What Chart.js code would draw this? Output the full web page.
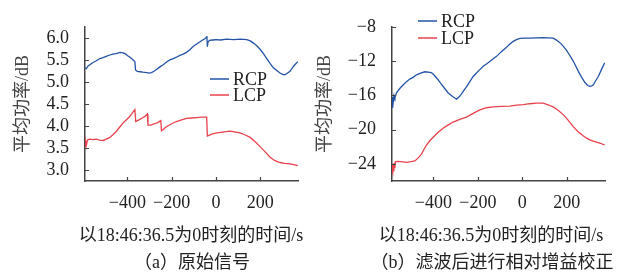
<!DOCTYPE html>
<html lang="zh">
<head>
<meta charset="utf-8">
<title>RCP / LCP 平均功率</title>
<script src="https://cdn.jsdelivr.net/npm/chart.js@4.4.1/dist/chart.umd.min.js"></script>
<style>
  html, body { margin: 0; padding: 0; background: #fff; }
  #wrap { position: relative; width: 630px; height: 280px; overflow: hidden; }
  canvas { position: absolute; top: 0; }
  #chartA { left: 0; }
  #chartB { left: 310px; }
  .lbl {
    position: absolute;
    font-family: "Liberation Serif", "Times New Roman", "DejaVu Serif", "Noto Sans CJK SC", serif;
    font-size: 18px;
    color: #222;
    text-align: center;
    white-space: nowrap;
    line-height: 20px;
    width: 300px;
  }
</style>
</head>
<body>
<div id="wrap">
  <canvas id="chartA" width="310" height="280"></canvas>
  <canvas id="chartB" width="320" height="280"></canvas>
  <div class="lbl" style="left:41px; top:225px;">以18:46:36.5为0时刻的时间/s</div>
  <div class="lbl" style="left:42px; top:252px;">（a）原始信号</div>
  <div class="lbl" style="left:341px; top:225px;">以18:46:36.5为0时刻的时间/s</div>
  <div class="lbl" style="left:342px; top:252px;">（b）滤波后进行相对增益校正</div>
</div>
<script>
// ---- Datos ----
var xTicks = [-400, -200, 0, 200];

// (a) señal original
var timeA_rcp = [-591, -585, -577, -569, -555, -540, -524, -510, -495, -479,
  -465, -450, -433, -420, -410, -400, -388, -375, -366, -363,
  -355, -343, -330, -313, -300, -291, -280, -268, -253, -238,
  -223, -208, -193, -178, -163, -148, -133, -118, -102, -87,
  -72, -60, -50, -44, -41, -39, -36, -30, -15, 0,
  20, 48, 80, 110, 139, 155, 169, 184, 199, 214,
  229, 244, 259, 274, 289, 300, 310, 320, 334, 349,
  360, 369];
var rcpA = [5.32, 5.30, 5.36, 5.39, 5.44, 5.48, 5.53, 5.55, 5.58, 5.61,
  5.63, 5.64, 5.67, 5.66, 5.64, 5.60, 5.56, 5.50, 5.46, 5.27,
  5.24, 5.23, 5.22, 5.21, 5.20, 5.21, 5.24, 5.28, 5.34, 5.39,
  5.45, 5.50, 5.53, 5.56, 5.60, 5.63, 5.67, 5.73, 5.81, 5.86,
  5.91, 5.95, 5.98, 6.01, 6.04, 5.80, 5.90, 5.94, 5.95, 5.96,
  5.95, 5.97, 5.96, 5.97, 5.96, 5.93, 5.88, 5.82, 5.74, 5.64,
  5.53, 5.42, 5.32, 5.26, 5.20, 5.17, 5.16, 5.19, 5.24, 5.35,
  5.41, 5.46];

var timeA_lcp = [-591, -589, -587, -584, -580, -570, -555, -539, -525, -509,
  -495, -479, -465, -449, -435, -419, -404, -388, -376, -366,
  -362, -350, -336, -320, -310, -307, -295, -276, -262, -249,
  -246, -236, -224, -200, -179, -155, -133, -110, -88, -65,
  -42, -39, -30, -15, 3, 30, 63, 90, 108, 130,
  154, 177, 199, 222, 244, 266, 289, 310, 334, 352,
  369];
var lcpA = [3.60, 3.55, 3.66, 3.58, 3.68, 3.70, 3.69, 3.70, 3.68, 3.67,
  3.70, 3.74, 3.80, 3.88, 3.97, 4.07, 4.14, 4.22, 4.30, 4.37,
  4.10, 4.13, 4.17, 4.22, 4.27, 4.02, 4.02, 4.05, 4.08, 4.12,
  3.89, 3.93, 3.98, 4.05, 4.10, 4.14, 4.17, 4.18, 4.19, 4.20,
  4.20, 3.77, 3.79, 3.82, 3.84, 3.86, 3.88, 3.86, 3.84, 3.80,
  3.74, 3.64, 3.53, 3.41, 3.29, 3.21, 3.17, 3.15, 3.14, 3.12,
  3.10];
var yTicksA = [3.0, 3.5, 4.0, 4.5, 5.0, 5.5, 6.0];

// (b) tras el filtrado y la corrección de ganancia relativa
var timeB_rcp = [-585, -583, -580, -577, -573, -566, -551, -536, -521, -506,
  -491, -476, -457, -438, -424, -409, -398, -386, -375, -364,
  -349, -334, -315, -296, -285, -274, -262, -251, -236, -221,
  -206, -191, -176, -161, -139, -116, -94, -71, -56, -41,
  -26, -11, 10, 34, 64, 94, 120, 139, 154, 169,
  184, 199, 214, 229, 241, 252, 267, 282, 294, 304,
  312, 319, 330, 342, 356, 371];
var rcpB = [-17.4, -16.2, -16.7, -16.0, -16.3, -15.7, -15.2, -14.8, -14.4, -14.1,
  -13.9, -13.6, -13.4, -13.25, -13.3, -13.35, -13.6, -13.95, -14.3, -14.7,
  -15.2, -15.7, -16.1, -16.45, -16.2, -15.85, -15.4, -15.0, -14.4, -13.8,
  -13.4, -13.0, -12.6, -12.35, -11.9, -11.45, -10.9, -10.4, -10.0, -9.7,
  -9.5, -9.35, -9.33, -9.32, -9.30, -9.28, -9.30, -9.33, -9.55, -9.85,
  -10.25, -10.75, -11.35, -12.0, -12.6, -13.2, -13.9, -14.5, -14.85, -14.95,
  -14.9, -14.8, -14.3, -13.8, -13.0, -12.2];

var timeB_lcp = [-585, -584, -582, -580, -578, -576, -573, -571, -563, -545,
  -521, -500, -483, -468, -453, -442, -431, -416, -401, -378,
  -356, -333, -311, -281, -251, -221, -191, -161, -131, -94,
  -56, -26, 4, 34, 64, 94, 116, 139, 161, 184,
  206, 229, 251, 274, 289, 304, 319, 334, 352, 371];
var lcpB = [-24.8, -24.0, -25.0, -24.1, -24.9, -23.9, -24.5, -23.75, -23.7, -23.75,
  -23.82, -23.75, -23.65, -23.3, -22.86, -22.3, -21.8, -21.3, -20.9, -20.3,
  -19.85, -19.45, -19.12, -18.8, -18.55, -18.1, -17.7, -17.45, -17.35, -17.3,
  -17.25, -17.15, -17.08, -16.98, -16.92, -16.92, -17.1, -17.35, -17.75, -18.25,
  -18.9, -19.65, -20.25, -20.72, -21.0, -21.2, -21.35, -21.45, -21.6, -21.8];
var yTicksB = [-24, -20, -16, -12, -8];

var seriesNames = ['RCP', 'LCP'];

// ---- Estilos ----
var SERIF = '"Liberation Serif", "Times New Roman", "DejaVu Serif", "Noto Sans CJK SC", serif';
var TEXT = '#222';
var AXIS = '#444';
var BLUE = '#2453a6';
var RED = '#e8424c';

function toPoints(xs, ys) {
  return xs.map(function(x, i) { return { x: x, y: ys[i] }; });
}

// Signo menos tipográfico
function fmt(v, digits) {
  var s = digits ? Math.abs(v).toFixed(digits) : String(Math.abs(v));
  return (v < 0 ? '\u2212' : '') + s;
}

// Marcas de escala hacia dentro del área
var innerTicks = {
  id: 'innerTicks',
  afterDraw: function(chart, args, opts) {
    var ctx = chart.ctx, area = chart.chartArea;
    var sx = chart.scales.x, sy = chart.scales.y;
    ctx.save();
    ctx.strokeStyle = AXIS;
    ctx.lineWidth = 1.2;
    ctx.beginPath();
    sx.ticks.forEach(function(t) {
      var px = Math.round(sx.getPixelForValue(t.value)) + 0.5;
      ctx.moveTo(px, area.bottom);
      ctx.lineTo(px, area.bottom - opts.len);
    });
    sy.ticks.forEach(function(t) {
      var py = Math.round(sy.getPixelForValue(t.value)) + 0.5;
      ctx.moveTo(area.left, py);
      ctx.lineTo(area.left + opts.len, py);
    });
    ctx.stroke();
    ctx.restore();
  }
};

// Leyenda dibujada a mano dentro del área
var legendBox = {
  id: 'legendBox',
  afterDraw: function(chart, args, opts) {
    var ctx = chart.ctx;
    ctx.save();
    ctx.font = '18px ' + SERIF;
    ctx.textBaseline = 'middle';
    chart.data.datasets.forEach(function(ds, i) {
      var y = opts.y + i * opts.gap;
      ctx.strokeStyle = ds.borderColor;
      ctx.lineWidth = 1.5;
      ctx.beginPath();
      ctx.moveTo(opts.x, y);
      ctx.lineTo(opts.x + 19, y);
      ctx.stroke();
      ctx.fillStyle = TEXT;
      ctx.fillText(ds.label, opts.x + 23, y + 1);
    });
    ctx.restore();
  }
};

function makeChart(id, cfg) {
  var ctx = document.getElementById(id).getContext('2d');
  return new Chart(ctx, {
    type: 'line',
    data: {
      datasets: [{
        label: seriesNames[0],
        data: toPoints(cfg.rcpX, cfg.rcpY),
        borderColor: BLUE,
        borderWidth: 1.3,
        pointRadius: 0,
        tension: 0,
        fill: false
      }, {
        label: seriesNames[1],
        data: toPoints(cfg.lcpX, cfg.lcpY),
        borderColor: RED,
        borderWidth: 1.3,
        pointRadius: 0,
        tension: 0,
        fill: false
      }]
    },
    plugins: [innerTicks, legendBox],
    options: {
      responsive: false,
      animation: false,
      layout: { padding: cfg.padding },
      plugins: {
        legend: { display: false },
        tooltip: { enabled: false },
        innerTicks: { len: 4 },
        legendBox: cfg.legend
      },
      scales: {
        x: {
          type: 'linear',
          min: cfg.xMin,
          max: cfg.xMax,
          afterBuildTicks: function(s) {
            s.ticks = xTicks.map(function(v) { return { value: v }; });
          },
          afterFit: function(s) { s.height = cfg.xHeight; },
          grid: { display: false, drawTicks: false },
          border: { display: true, color: AXIS, width: 1.5 },
          ticks: {
            autoSkip: false,
            maxRotation: 0,
            padding: 11,
            color: TEXT,
            font: { family: SERIF, size: 18 },
            callback: function(v) { return fmt(v); }
          }
        },
        y: {
          min: cfg.yMin,
          max: cfg.yMax,
          afterBuildTicks: function(s) {
            s.ticks = cfg.yTicks.map(function(v) { return { value: v }; });
          },
          afterFit: function(s) { s.width = cfg.yWidth; },
          grid: { display: false, drawTicks: false },
          border: { display: true, color: AXIS, width: 1.5 },
          title: {
            display: true,
            text: '平均功率/dB',
            color: '#444',
            font: { family: SERIF, size: 18 },
            padding: { top: cfg.titlePad, bottom: 0 }
          },
          ticks: {
            padding: 16,
            color: TEXT,
            font: { family: SERIF, size: 18 },
            callback: function(v) { return fmt(v, cfg.yDigits); }
          }
        }
      }
    }
  });
}

makeChart('chartA', {
  rcpX: timeA_rcp, rcpY: rcpA, lcpX: timeA_lcp, lcpY: lcpA,
  xMin: -591, xMax: 370,
  yMin: 2.75, yMax: 6.25, yTicks: yTicksA, yDigits: 1,
  yWidth: 85, xHeight: 99, titlePad: 12,
  padding: { top: 12, right: 12, left: 0, bottom: 0 },
  legend: { x: 210, y: 79, gap: 16 }
});

makeChart('chartB', {
  rcpX: timeB_rcp, rcpY: rcpB, lcpX: timeB_lcp, lcpY: lcpB,
  xMin: -586, xMax: 372,
  yMin: -26, yMax: -8, yTicks: yTicksB, yDigits: 0,
  yWidth: 82, xHeight: 99, titlePad: 4,
  padding: { top: 13, right: 25, left: 0, bottom: 0 },
  legend: { x: 108, y: 21, gap: 17 }
});
</script>
</body>
</html>
